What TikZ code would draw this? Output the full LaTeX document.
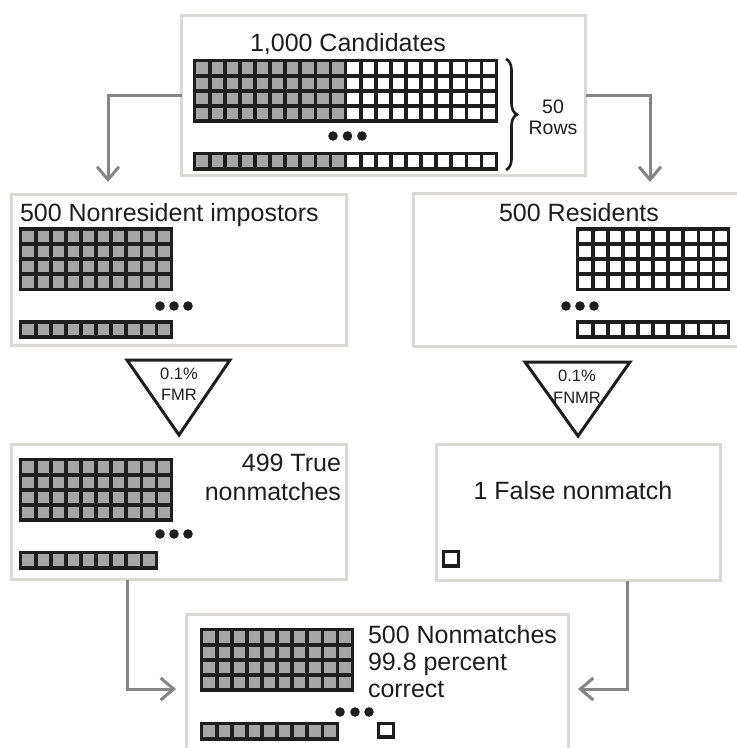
\documentclass[tikz,border=0pt]{standalone}
\usepackage{fontspec}
\setmainfont{Liberation Sans}
\usetikzlibrary{arrows.meta,decorations.pathreplacing}
\definecolor{boxgray}{HTML}{DAD9D5}
\definecolor{arrgray}{HTML}{858585}
\definecolor{cellgray}{HTML}{A6A6A6}
\definecolor{ink}{HTML}{1E1E1E}
\newcommand\fsbig{\fontsize{25}{30}\selectfont}
\newcommand\fsmid{\fontsize{19.5}{22}\selectfont}
\newcommand\fssmall{\fontsize{16.5}{19}\selectfont}
% cell block: x, y (top-left line centre), columns, rows, fill
\newcommand\cellblock[5]{%
  \foreach \cc in {1,...,#3}{%
    \foreach \rr in {1,...,#4}{%
      \draw[cell,fill=#5] ({#1+(\cc-1)*15.1},{#2+(\rr-1)*15.1}) rectangle ++(15.1,15.1);
    }%
  }%
}
\begin{document}
\begin{tikzpicture}[x=1pt,y=-1pt,
  box/.style={draw=boxgray,line width=3pt,fill=white,anchor=north west,outer sep=0pt,inner sep=0pt},
  arr/.style={draw=arrgray,line width=3pt,-{Straight Barb[length=13pt,width=22pt]}},
  cell/.style={draw=ink,line width=3.7pt,line join=miter},
  tri/.style={draw=ink,line width=3pt,line join=miter},
  txt/.style={inner sep=0pt,outer sep=0pt,text=ink,font=\fsbig},
  small/.style={inner sep=0pt,outer sep=0pt,text=ink,font=\fssmall,anchor=base},
  dot/.style={fill=ink}]
\useasboundingbox[fill=white] (0,0) rectangle (737,748);

% boxes
\node[box,minimum width=404pt,minimum height=160pt] (top) at (181.5,15.5) {};
\node[box,minimum width=335pt,minimum height=151pt] (lbox) at (11.5,194.5) {};
\node[box,minimum width=332pt,minimum height=153pt] (rbox) at (413.5,193.5) {};
\node[box,minimum width=335pt,minimum height=135pt] (lmid) at (11.5,444.5) {};
\node[box,minimum width=284pt,minimum height=136pt] (rmid) at (436.5,444.5) {};
\node[box,minimum width=382pt,minimum height=150pt] (bot) at (186.5,614.5) {};

% connectors
\coordinate (t1) at (108,182);
\coordinate (t2) at (650,182);
\coordinate (t3) at (176,689);
\coordinate (t4) at (578,689);
\draw[arr] (top.west) -| (t1);
\draw[arr] (top.east) -| (t2);
\draw[arr] ([xshift=-52pt]lmid.south) |- (t3);
\draw[arr] ([xshift=48.5pt]rmid.south) |- (t4);

% top box
\node[txt,anchor=base] (ttl) at (348,51) {1,000 Candidates};
\cellblock{194.6}{60.6}{10}{4}{cellgray}
\cellblock{345.6}{60.6}{10}{4}{white}
\cellblock{194.6}{153.6}{10}{1}{cellgray}
\cellblock{345.6}{153.6}{10}{1}{white}
\fill[dot] (333,136) circle (4.8pt) (347.5,136) circle (4.8pt) (362,136) circle (4.8pt);
\draw[ink,line width=2.6pt,decorate,decoration={brace,amplitude=11pt}] (506,59) -- (506,170);
\node[inner sep=0pt,text=ink,font=\fsmid,anchor=base] (n50) at (553,113.5) {50};
\node[inner sep=0pt,text=ink,font=\fsmid,anchor=base] (rows) at (553,134) {Rows};

% left box
\node[txt,anchor=base west] (ltl) at (20,221.7) {500 Nonresident impostors};
\cellblock{20.6}{229}{10}{4}{cellgray}
\cellblock{20.6}{321.7}{10}{1}{cellgray}
\fill[dot] (160,306) circle (4.8pt) (174,306) circle (4.8pt) (188,306) circle (4.8pt);

% right box
\node[txt,anchor=base] (rtl) at (579,221.7) {500 Residents};
\cellblock{577.6}{229}{10}{4}{white}
\cellblock{577.6}{321.7}{10}{1}{white}
\fill[dot] (566,306) circle (4.8pt) (580,306) circle (4.8pt) (594,306) circle (4.8pt);

% triangles
\draw[tri] (127,360) -- (230,360) -- (179,435) -- cycle;
\node[small] (fmr1) at (179,379.5) {0.1\%};
\node[small] (fmr2) at (179,400.5) {FMR};
\draw[tri] (525,362) -- (630,362) -- (578,436) -- cycle;
\node[small] (fnmr1) at (577,381.5) {0.1\%};
\node[small] (fnmr2) at (577,403) {FNMR};

% left middle box
\node[txt,anchor=base east] (lm1) at (341,471.7) {499 True};
\node[txt,anchor=base east] (lm2) at (341,500) {nonmatches};
\cellblock{20.6}{459.6}{10}{4}{cellgray}
\cellblock{20.6}{552.6}{9}{1}{cellgray}
\fill[dot] (160,534) circle (4.8pt) (174,534) circle (4.8pt) (188,534) circle (4.8pt);

% right middle box
\node[txt,anchor=base] (rm1) at (573,499) {1 False nonmatch};
\draw[cell,fill=white] (443.6,551.6) rectangle (458.4,566);

% bottom box
\node[txt,anchor=base west] (b1) at (368,643.3) {500 Nonmatches};
\node[txt,anchor=base west] (b2) at (368,670.5) {99.8 percent};
\node[txt,anchor=base west] (b3) at (368,697.7) {correct};
\cellblock{201.6}{629.6}{10}{4}{cellgray}
\cellblock{201.6}{723.6}{9}{1}{cellgray}
\fill[dot] (340,712) circle (4.8pt) (355,712) circle (4.8pt) (369,712) circle (4.8pt);
\draw[cell,fill=white] (378.6,723.6) rectangle (393.4,737);
\end{tikzpicture}
\end{document}
